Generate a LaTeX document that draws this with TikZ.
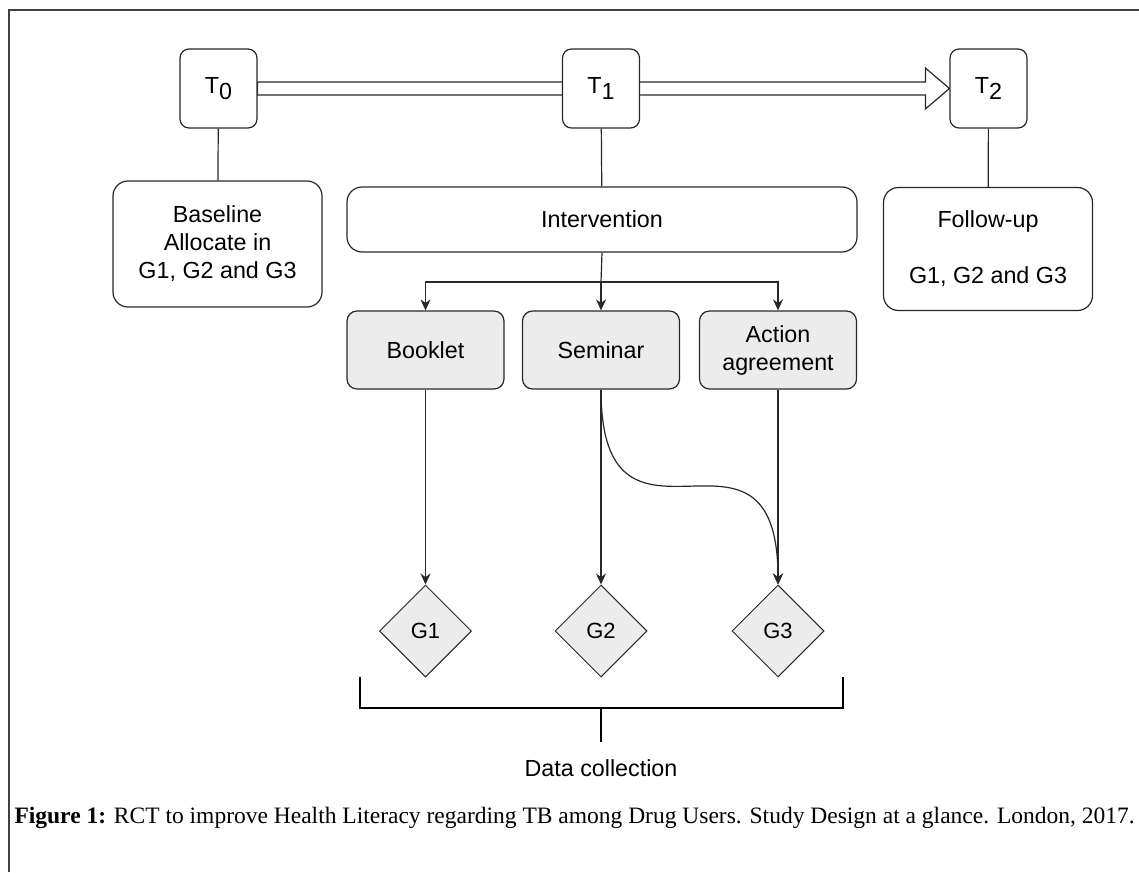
\documentclass[tikz,border=0pt]{standalone}
\usepackage{fontspec}
\setmainfont{Liberation Serif}
\newfontfamily\diagfont{Liberation Sans}
\usetikzlibrary{shapes.geometric,arrows.meta,backgrounds}
\definecolor{boxgray}{RGB}{236,236,236}
\definecolor{linegray}{RGB}{40,40,40}
\newcommand{\tsub}[1]{T\raisebox{-6pt}{#1}}
\begin{document}
\begin{tikzpicture}[x=1pt, y=-1pt,
    every node/.style={font=\diagfont\fontsize{23.3}{28}\selectfont, align=center},
    timebox/.style={draw=linegray, line width=1.2pt, fill=white, rounded corners=9pt,
      minimum width=77pt, minimum height=79pt, inner sep=0pt},
    phasebox/.style={draw=linegray, line width=1.2pt, fill=white, rounded corners=15pt,
      minimum width=209pt, minimum height=126pt, inner sep=0pt},
    armbox/.style={draw=linegray, line width=1.2pt, fill=boxgray, rounded corners=10pt,
      minimum width=157pt, minimum height=78pt, inner sep=0pt},
    group/.style={draw=linegray, line width=1pt, fill=boxgray, diamond, aspect=1,
      minimum width=92pt, minimum height=92pt, inner sep=0pt,
      font=\diagfont\fontsize{22}{24}\selectfont},
    link/.style={draw=linegray, line width=1.2pt},
    arrow/.style={link, -{Stealth[length=11pt, width=10pt]}},
    bracket/.style={draw=black, line width=2.4pt}]
    \useasboundingbox (0,0) rectangle (1139,872);
    \draw[draw=black!75, line width=2pt] (9,872) -- (9,10) -- (1139,10);

    \node[timebox] (T0) at (218.5, 88.5) {\tsub{0}};
    \node[timebox] (T1) at (601, 88.5) {\tsub{1}};
    \node[timebox] (T2) at (988.5, 88.5) {\tsub{2}};

    \node[phasebox] (base)   at (217.5, 244) {Baseline\\Allocate in\\G1, G2 and G3};
    \node[phasebox, minimum width=510pt, minimum height=65pt] (interv) at (602, 219.5) {Intervention};
    \node[phasebox, minimum height=123pt] (follow) at (988, 249) {Follow-up\\[28pt]G1, G2 and G3};

    \node[armbox] (booklet) at (425.5, 350) {Booklet};
    \node[armbox] (seminar) at (601, 350) {Seminar};
    \node[armbox] (action)  at (778, 350) {Action\\agreement};

    \node[group] (G1) at (425.5, 631) {G1};
    \node[group] (G2) at (601, 631) {G2};
    \node[group] (G3) at (778, 631) {G3};

    \node (data) at (601, 768) {Data collection};
    \node[anchor=west, font=\rmfamily\fontsize{23.5}{26}\selectfont] (caption) at (11, 818)
      {\textbf{Figure 1:} RCT to improve Health Literacy regarding TB among Drug Users. Study Design at a glance. London, 2017.};

    \coordinate (split) at (601, 282);

    % hollow time arrow behind T1
    \begin{scope}[on background layer]
      \draw[link, fill=white] ([yshift=6.5pt]T0.east) -- ([xshift=-24pt, yshift=6.5pt]T2.west)
        -- ([xshift=-24pt, yshift=20.5pt]T2.west) -- (T2.west)
        -- ([xshift=-24pt, yshift=-20.5pt]T2.west) -- ([xshift=-24pt, yshift=-6.5pt]T2.west)
        -- ([yshift=-6.5pt]T0.east) -- cycle;
    \end{scope}

    \draw[link] (T0) -- (base);
    \draw[link] (T1) -- (interv);
    \draw[link] (T2) -- (follow);

    \draw[link] (interv.south) -- (split);
    \draw[arrow] (split) -| (booklet.north);
    \draw[arrow] (split) -- (seminar.north);
    \draw[arrow] (split) -| (action.north);

    \draw[arrow] (booklet) -- (G1);
    \draw[arrow] (seminar) -- (G2);
    \draw[arrow] (action) -- (G3);
    \draw[arrow] (seminar.south) .. controls +(0,196) and +(0,-196) .. (G3.north);

    % data collection bracket
    \draw[bracket] (360,677) |- (843,708) -- (843,677);
    \draw[bracket] (601,708) -- (601,742);

  \end{tikzpicture}
\end{document}
